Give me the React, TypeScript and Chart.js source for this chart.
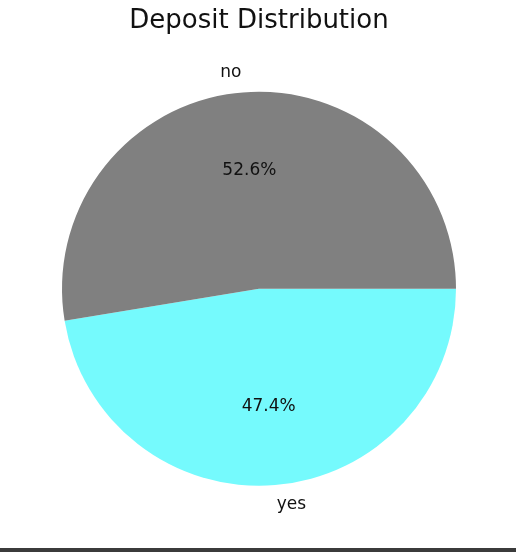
import React, { useEffect, useRef } from "react";
import { Chart, registerables } from "chart.js";

Chart.register(...registerables);

// Deposit outcome shares (percent)
const categories = ["no", "yes"];
const shares = [52.6, 47.4];
const sliceColors = ["#808080", "#75FAFD"];
const chartTitle = "Deposit Distribution";

const FONT = "'DejaVu Sans', 'Liberation Sans', sans-serif";

// Draws category names outside each wedge and the percentage inside it.
const sliceLabels = {
  id: "sliceLabels",
  afterDatasetsDraw(chart: any) {
    const ctx = chart.ctx;
    const meta = chart.getDatasetMeta(0);
    const data = chart.data.datasets[0].data as number[];
    const total = data.reduce((a, b) => a + b, 0);
    ctx.save();
    ctx.fillStyle = "#111";
    ctx.font = `17px ${FONT}`;
    ctx.textBaseline = "middle";
    meta.data.forEach((arc: any, i: number) => {
      const { x, y, startAngle, endAngle, outerRadius } = arc.getProps(
        ["x", "y", "startAngle", "endAngle", "outerRadius"],
        true
      );
      const mid = (startAngle + endAngle) / 2;
      const cx = Math.cos(mid);
      const cy = Math.sin(mid);
      // percentage inside the wedge
      ctx.textAlign = "center";
      const pct = ((data[i] / total) * 100).toFixed(1) + "%";
      ctx.fillText(pct, x + cx * outerRadius * 0.6, y + cy * outerRadius * 0.6);
      // category name just outside the rim
      ctx.textAlign = cx > 0 ? "left" : "right";
      ctx.fillText(
        chart.data.labels[i],
        x + cx * outerRadius * 1.1,
        y + cy * outerRadius * 1.1
      );
    });
    ctx.restore();
  },
};

export default function App() {
  const canvasRef = useRef<HTMLCanvasElement>(null);

  useEffect(() => {
    if (!canvasRef.current) return;
    // clockwise from the 3 o'clock position: "yes" then "no"
    const order = [1, 0];
    const chart = new Chart(canvasRef.current, {
      type: "pie",
      data: {
        labels: order.map((i) => categories[i]),
        datasets: [
          {
            data: order.map((i) => shares[i]),
            backgroundColor: order.map((i) => sliceColors[i]),
            borderWidth: 0,
          },
        ],
      },
      options: {
        responsive: false,
        animation: false,
        rotation: 90,
        layout: { padding: { left: 62, right: 60, top: 0, bottom: 66 } },
        plugins: {
          legend: { display: false },
          tooltip: { enabled: false },
          title: {
            display: true,
            text: chartTitle,
            color: "#111",
            font: { family: FONT, size: 26, weight: "normal", lineHeight: 1.2 },
            padding: { top: 6, bottom: 54.3 },
          },
        },
      },
      plugins: [sliceLabels],
    });
    return () => chart.destroy();
  }, []);

  return (
    <div
      style={{
        position: "absolute",
        left: 0,
        top: 0,
        width: 516,
        height: 552,
        background: "#fff",
        overflow: "hidden",
      }}
    >
      <canvas ref={canvasRef} width={516} height={552} style={{ display: "block" }} />
      <div
        style={{
          position: "absolute",
          left: 0,
          bottom: 0,
          width: 516,
          height: 4,
          background: "#3b3b3b",
        }}
      />
    </div>
  );
}
